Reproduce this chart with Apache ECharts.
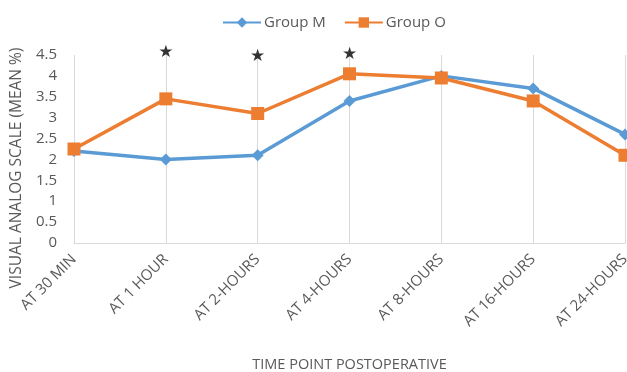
<!DOCTYPE html>
<html>
<head>
<meta charset="utf-8">
<script src="https://cdn.jsdelivr.net/npm/echarts@6/dist/echarts.min.js"></script>
<style>
  html, body { margin: 0; padding: 0; background: #fff; }
  #chart { width: 627px; height: 372px; }
</style>
</head>
<body>
<div id="chart"></div>
<script>
// Time points after surgery
const timePoints = ['AT 30 MIN', 'AT 1 HOUR', 'AT 2-HOURS', 'AT 4-HOURS', 'AT 8-HOURS', 'AT 16-HOURS', 'AT 24-HOURS'];
// Mean VAS score per group
const groupM = [2.2, 2.0, 2.1, 3.4, 4.0, 3.7, 2.6];
const groupO = [2.25, 3.45, 3.1, 4.05, 3.95, 3.4, 2.1];
// Significance markers (time point, height)
const sigMarks = [['AT 1 HOUR', 4.55], ['AT 2-HOURS', 4.47], ['AT 4-HOURS', 4.52]];
// Y axis ticks
const yMin = 0, yMax = 4.5, yStep = 0.5;

const font = 'Open Sans';
const grey = '#595959';

const chart = echarts.init(document.getElementById('chart'));
chart.setOption({
  animation: false,
  textStyle: { fontFamily: font },
  legend: {
    top: 10,
    left: 217,
    itemWidth: 38,
    itemHeight: 13,
    itemGap: 18,
    textStyle: { color: grey, fontSize: 15, fontFamily: font, padding: [0, 0, 0, -2] },
    data: ['Group M', 'Group O']
  },
  grid: { left: 74, right: 2, top: 55, bottom: 129, containLabel: false, outerBoundsMode: 'none' },
  xAxis: {
    type: 'category',
    data: timePoints,
    boundaryGap: false,
    axisLine: { lineStyle: { color: '#d9d9d9', width: 1 } },
    axisTick: { show: false },
    splitLine: { show: true, lineStyle: { color: '#d9d9d9', width: 1 } },
    axisLabel: { rotate: 45, color: grey, fontSize: 15, fontFamily: font, margin: 14 },
    name: 'TIME POINT POSTOPERATIVE',
    nameLocation: 'middle',
    nameGap: 114,
    nameTextStyle: { color: grey, fontSize: 14.5, fontFamily: font }
  },
  yAxis: {
    type: 'value',
    min: yMin,
    max: yMax,
    interval: yStep,
    axisLine: { show: false },
    axisTick: { show: false },
    splitLine: { show: false },
    axisLabel: { color: grey, fontSize: 15, fontFamily: font, margin: 17 },
    name: 'VISUAL ANALOG SCALE (MEAN %)',
    nameLocation: 'middle',
    nameGap: 38,
    nameTextStyle: { color: grey, fontSize: 15.5, fontFamily: font, padding: [0, 38, 0, 0] }
  },
  series: [
    {
      name: 'Group M',
      type: 'line',
      data: groupM,
      symbol: 'diamond',
      symbolSize: 12,
      lineStyle: { color: '#5b9bd5', width: 3.5 },
      itemStyle: { color: '#5b9bd5' },
      z: 3
    },
    {
      name: 'Group O',
      type: 'line',
      data: groupO,
      symbol: 'rect',
      symbolSize: 13,
      lineStyle: { color: '#ed7d31', width: 3.5 },
      itemStyle: { color: '#ed7d31' },
      z: 4
    },
    {
      name: 'sig',
      type: 'scatter',
      data: sigMarks,
      symbolSize: 0,
      clip: false,
      silent: true,
      label: {
        show: true,
        position: 'inside',
        formatter: '★',
        color: '#000',
        fontSize: 17,
        fontFamily: 'DejaVu Sans'
      }
    }
  ]
});
</script>
</body>
</html>
